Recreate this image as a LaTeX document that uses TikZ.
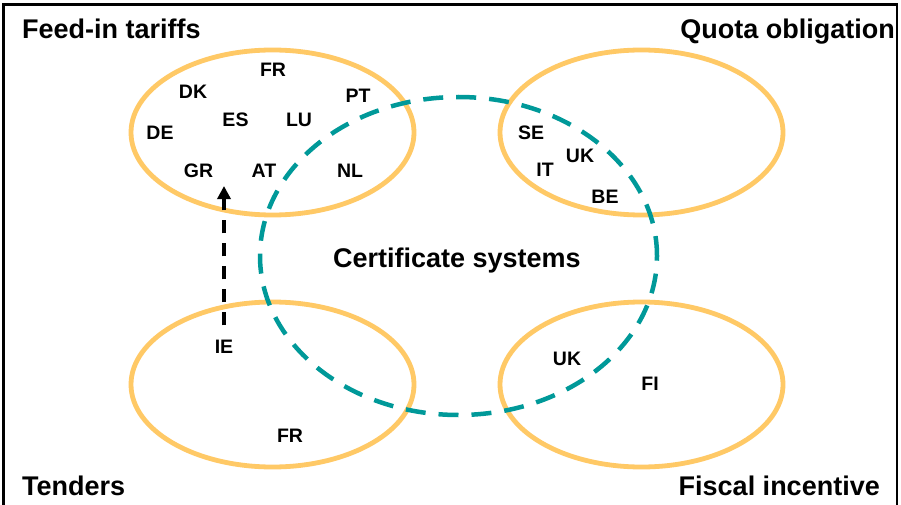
\documentclass[tikz,border=0pt]{standalone}
\usepackage{fontspec}
\setmainfont{Liberation Sans}
\usetikzlibrary{arrows.meta}
\definecolor{ovalorange}{RGB}{255,201,102}
\definecolor{certteal}{RGB}{0,153,153}
\tikzset{
  oval/.style={draw=ovalorange,line width=4.8pt},
  certoval/.style={draw=certteal,line width=4.5pt,dash pattern=on 20pt off 13pt},
  country/.style={inner sep=0pt,anchor=base,font=\fontsize{19.5}{22}\selectfont\bfseries},
  title/.style={inner sep=0pt,font=\fontsize{27}{30}\selectfont\bfseries},
  moveto/.style={draw=black,line width=3.3pt,dash pattern=on 13pt off 10pt,-{Triangle[length=13pt,width=13pt]}},
  frame/.style={draw=black,line width=2.5pt}
}
\begin{document}
\begin{tikzpicture}[x=1pt,y=-1pt]
\useasboundingbox (0,0) rectangle (901,505);
\fill[white] (0,0) rectangle (901,505);
\draw[frame] (3.5,506) -- (3.5,4.5) -- (897,4.5) -- (897,506);
% ovals
\draw[oval] (272.5,132.5) ellipse [x radius=141.5pt,y radius=82.5pt];
\draw[oval] (641.5,132.5) ellipse [x radius=141.5pt,y radius=82.5pt];
\draw[oval] (272.5,384.5) ellipse [x radius=141.5pt,y radius=82.5pt];
\draw[oval] (641.5,384.5) ellipse [x radius=141.5pt,y radius=82.5pt];
\draw[certoval] (458.5,256) ellipse [x radius=198.5pt,y radius=159pt];
% titles
\node[title,anchor=base west] (fit) at (22,39) {Feed-in tariffs};
\node[title,anchor=base east] (quota) at (895,39) {Quota obligation};
\node[title,anchor=base west] (tend) at (22,495) {Tenders};
\node[title,anchor=base east] (fisc) at (880,495) {Fiscal incentive};
\node[title,anchor=base] (cert) at (457,267) {Certificate systems};
% feed-in countries
\node[country] (fr1) at (273,77) {FR};
\node[country] (dk) at (193,99) {DK};
\node[country] (pt) at (358,103) {PT};
\node[country] (es) at (235.5,127) {ES};
\node[country] (lu) at (299,127) {LU};
\node[country] (de) at (160,140) {DE};
\node[country] (gr) at (198.5,178) {GR};
\node[country] (at) at (264,178) {AT};
\node[country] (nl) at (350,178) {NL};
% quota countries
\node[country] (se) at (531,140) {SE};
\node[country] (uk1) at (580,163) {UK};
\node[country] (it) at (545,176) {IT};
\node[country] (be) at (605,203) {BE};
% tenders
\node[country] (ie) at (224,353) {IE};
\node[country] (fr2) at (290,442) {FR};
% fiscal
\node[country] (uk2) at (567,365) {UK};
\node[country] (fi) at (650,390) {FI};
% arrow
\coordinate (tip) at (224,186);
\draw[moveto,shorten <=14pt] (ie.north) -- (tip);
\end{tikzpicture}
\end{document}
